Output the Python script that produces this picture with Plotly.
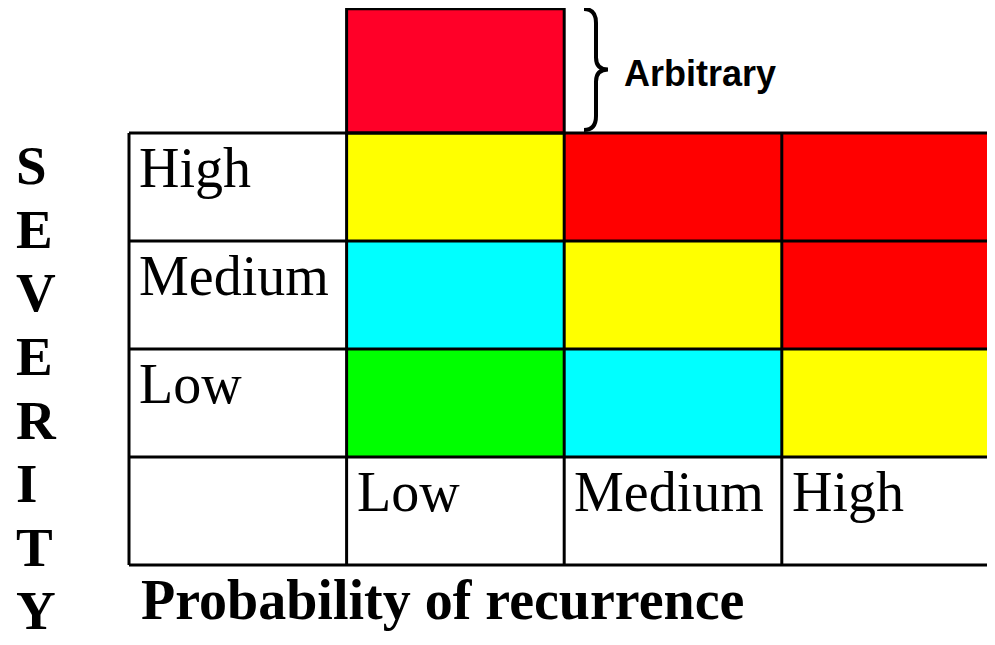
import plotly.graph_objects as go

# ---------------- data ----------------
prob_levels = ["Low", "Medium", "High"]          # columns (probability of recurrence)
sev_levels = ["Low", "Medium", "High"]           # rows (severity), bottom to top
# risk class per severity row (Low, Medium, High) x probability column (Low, Medium, High)
risk = [
    [1, 2, 3],   # Low severity
    [2, 3, 4],   # Medium severity
    [3, 4, 4],   # High severity
]
risk_colors = ["#FFFFFF", "#00FF00", "#00FFFF", "#FFFF00", "#FF0000"]
arbitrary_col = "Low"
arbitrary_height = 1.15
arbitrary_color = "#FF0028"
axis_word = "SEVERITY"
x_title = "Probability of recurrence"
side_note = "Arbitrary"

# ---------------- layout helpers ----------------
OFF = 8                      # page body margin of the browser
W, H = 995 - OFF, 645 - OFF
PXX = 217.6   # pixels per column
PXY = 108.0   # pixels per row
X0 = -0.5 - (129 - OFF) / PXX
X1 = X0 + W / PXX
Y1 = -0.5 + (565 - OFF) / PXY
Y0 = Y1 - H / PXY


def px_x(p):
    return X0 + (p - OFF) / PXX


def px_y(p):
    return Y1 - (p - OFF) / PXY


def paper_x(p):
    return (p - OFF) / W


def paper_y(p):
    return 1 - (p - OFF) / H


# heatmap grid: column 0 / row 0 are the label cells (white)
ncols = len(prob_levels) + 1
z = [[0] * ncols]
for row in risk:
    z.append([0] + row)
xs = list(range(ncols))
ys = list(range(len(sev_levels) + 1))

n = len(risk_colors)
colorscale = []
for k, c in enumerate(risk_colors):
    colorscale.append([k / n, c])
    colorscale.append([(k + 1) / n, c])

fig = go.Figure()
fig.add_trace(go.Heatmap(
    z=z, x=xs, y=ys, colorscale=colorscale, zmin=-0.5, zmax=n - 0.5,
    showscale=False, hoverinfo="skip",
))

top_x = prob_levels.index(arbitrary_col) + 1
top_base = len(sev_levels) + 0.5
fig.add_trace(go.Bar(
    x=[top_x], y=[arbitrary_height], base=[top_base], width=1,
    marker=dict(color=arbitrary_color, line=dict(color="black", width=3)),
    hoverinfo="skip", showlegend=False,
))

shapes = []
for yb in [i - 0.5 for i in range(len(sev_levels) + 2)]:
    shapes.append(dict(type="line", x0=-0.5, x1=X1 + 1, y0=yb, y1=yb,
                       line=dict(color="black", width=3)))
for xb in [j - 0.5 for j in range(ncols)]:
    shapes.append(dict(type="line", x0=xb, x1=xb, y0=-0.5, y1=len(sev_levels) + 0.5,
                       line=dict(color="black", width=3)))

# curly brace next to the arbitrary box (reference pixel positions)
top_px = 9
bot_px = 130
mid_px = (top_px + bot_px) / 2
bx0 = 584
bx1 = 596
bx2 = 608
pts = lambda a, b: f"{px_x(a)},{px_y(b)}"
path = (f"M {pts(bx0, top_px)} Q {pts(bx1, top_px)} {pts(bx1, top_px + 14)} "
        f"L {pts(bx1, mid_px - 12)} Q {pts(bx1, mid_px)} {pts(bx2, mid_px)} "
        f"Q {pts(bx1, mid_px)} {pts(bx1, mid_px + 12)} "
        f"L {pts(bx1, bot_px - 14)} Q {pts(bx1, bot_px)} {pts(bx0, bot_px)}")
shapes.append(dict(type="path", path=path, line=dict(color="black", width=4)))

annotations = []
serif = "Liberation Serif"
for i, lab in enumerate(sev_levels):
    annotations.append(dict(
        x=-0.5 + 8 / PXX, y=i + 1.5 - 35 / PXY, text=lab, showarrow=False,
        xanchor="left", yanchor="middle",
        font=dict(family=serif, size=56, color="black")))
for j, lab in enumerate(prob_levels):
    annotations.append(dict(
        x=j + 0.5 + 8 / PXX, y=0.5 - 35 / PXY, text=lab, showarrow=False,
        xanchor="left", yanchor="middle",
        font=dict(family=serif, size=56, color="black")))

for k, ch in enumerate(axis_word):
    annotations.append(dict(
        xref="paper", yref="paper", x=paper_x(14), y=paper_y(166 + k * 63.5),
        text=f"<b>{ch}</b>", showarrow=False, xanchor="left", yanchor="middle",
        font=dict(family=serif, size=55, color="black")))

annotations.append(dict(
    xref="paper", yref="paper", x=paper_x(139), y=paper_y(600),
    text=f"<b>{x_title}</b>", showarrow=False, xanchor="left", yanchor="middle",
    font=dict(family=serif, size=56, color="black")))

annotations.append(dict(
    x=px_x(622), y=px_y(73), text=f"<b>{side_note}</b>", showarrow=False,
    xanchor="left", yanchor="middle",
    font=dict(family="Liberation Sans", size=36, color="black")))

fig.update_layout(
    width=W, height=H, margin=dict(l=0, r=0, t=0, b=0),
    paper_bgcolor="white", plot_bgcolor="white",
    xaxis=dict(range=[X0, X1], visible=False, fixedrange=True),
    yaxis=dict(range=[Y0, Y1], visible=False, fixedrange=True),
    shapes=shapes, annotations=annotations, showlegend=False,
)

fig.write_html("out.html")
